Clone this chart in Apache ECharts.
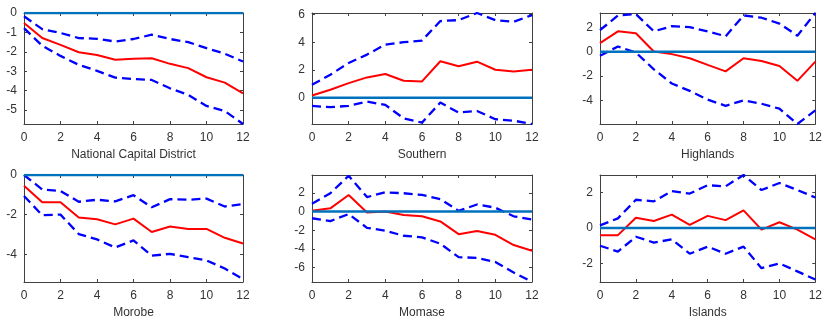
<!DOCTYPE html>
<html>
<head>
<meta charset="utf-8">
<script src="https://cdn.jsdelivr.net/npm/echarts@6/dist/echarts.min.js"></script>
<style>html,body{margin:0;padding:0;background:#fff}#c{width:825px;height:320px}</style>
</head>
<body>
<div id="c"></div>
<script>
const horizon = [0,1,2,3,4,5,6,7,8,9,10,11,12];
const xTicks = [0,2,4,6,8,10,12];
const regions = ['National Capital District','Southern','Highlands','Morobe','Momase','Islands'];

const ncdMid   = [-0.52,-1.29,-1.64,-2.02,-2.16,-2.41,-2.36,-2.33,-2.62,-2.84,-3.31,-3.59,-4.14];
const ncdUpper = [-0.17,-0.83,-1.03,-1.29,-1.33,-1.47,-1.34,-1.12,-1.34,-1.50,-1.81,-2.10,-2.50];
const ncdLower = [-0.78,-1.69,-2.21,-2.67,-2.98,-3.33,-3.40,-3.45,-3.88,-4.22,-4.79,-5.05,-5.72];

const southMid   = [0.17,0.58,1.06,1.47,1.71,1.23,1.18,2.63,2.27,2.60,2.02,1.90,2.02];
const southUpper = [0.94,1.66,2.51,3.11,3.83,4.00,4.12,5.52,5.59,6.10,5.59,5.47,5.95];
const southLower = [-0.58,-0.67,-0.58,-0.27,-0.51,-1.47,-1.78,-0.34,-1.06,-0.94,-1.54,-1.64,-1.88];

const highMid   = [0.72,1.69,1.53,0.03,-0.19,-0.53,-1.08,-1.61,-0.53,-0.75,-1.17,-2.39,-0.81];
const highUpper = [1.78,3.00,3.11,1.69,2.11,2.03,1.69,1.28,3.00,2.81,2.33,1.33,3.20];
const highLower = [-0.33,0.44,-0.06,-1.44,-2.61,-3.22,-3.94,-4.45,-4.00,-4.28,-4.69,-5.95,-4.83];

const morobeMid   = [-0.54,-1.38,-1.38,-2.15,-2.23,-2.49,-2.20,-2.88,-2.60,-2.72,-2.72,-3.17,-3.46];
const morobeUpper = [0.00,-0.73,-0.81,-1.35,-1.25,-1.33,-1.02,-1.63,-1.22,-1.25,-1.19,-1.59,-1.46];
const morobeLower = [-1.06,-2.03,-2.00,-2.98,-3.25,-3.66,-3.30,-4.07,-3.98,-4.15,-4.31,-4.72,-5.25];

const momaseMid   = [0.07,0.34,1.77,-0.10,0.00,-0.38,-0.51,-1.06,-2.42,-2.08,-2.49,-3.58,-4.20];
const momaseUpper = [0.82,1.95,3.82,1.54,2.05,1.95,1.77,1.33,0.07,0.75,0.41,-0.51,-0.85];
const momaseLower = [-0.72,-1.02,-0.27,-1.74,-2.05,-2.59,-2.76,-3.44,-4.88,-4.95,-5.39,-6.52,-7.50];

const islandMid   = [-0.40,-0.40,0.58,0.40,0.76,0.18,0.69,0.45,1.00,-0.09,0.33,-0.09,-0.64];
const islandUpper = [0.15,0.55,1.60,1.51,2.09,1.95,2.42,2.36,3.00,2.15,2.55,2.15,1.73];
const islandLower = [-1.00,-1.33,-0.49,-0.82,-0.64,-1.45,-1.05,-1.45,-1.05,-2.27,-2.00,-2.45,-2.91];

const yTicks = [
  [-5,-4,-3,-2,-1,0],
  [0,2,4,6],
  [-4,-2,0,2],
  [-4,-2,0],
  [-6,-4,-2,0,2],
  [-2,0,2]
];
const yMin = [-5.72,-1.88,-5.95,-5.4,-7.53,-3.05];
const yMax = [0,6.1,3.2,0,3.9,3.0];

const mids = [ncdMid,southMid,highMid,morobeMid,momaseMid,islandMid];
const uppers = [ncdUpper,southUpper,highUpper,morobeUpper,momaseUpper,islandUpper];
const lowers = [ncdLower,southLower,highLower,morobeLower,momaseLower,islandLower];

const lefts = [24,312,600];
const widths = [219,220,219];
const tops = [13,175];
const heights = [111,111];

const axisCol = '#404040';
const font = 'Liberation Sans, Arial, Helvetica, sans-serif';

const grid=[], xAxis=[], yAxis=[], series=[];
const pair = (arr) => horizon.map((h,i)=>[h,arr[i]]);

for (let p=0;p<6;p++){
  const col=p%3, row=Math.floor(p/3);
  grid.push({left:lefts[col], top:tops[row], width:widths[col], height:heights[row], containLabel:false});
  const baseX = {
    type:'value', gridIndex:p, min:0, max:12,
    axisLine:{show:true, onZero:false, lineStyle:{color:axisCol,width:1}},
    axisTick:{show:true, inside:true, length:3, customValues:xTicks, lineStyle:{color:axisCol}},
    splitLine:{show:false}
  };
  xAxis.push(Object.assign({}, baseX, {
    position:'bottom',
    name:regions[p], nameLocation:'middle', nameGap:25,
    nameTextStyle:{color:'#333', fontSize:12, fontFamily:font},
    axisLabel:{show:true, customValues:xTicks, color:'#333', fontSize:12, fontFamily:font, margin:8}
  }));
  xAxis.push(Object.assign({}, baseX, {position:'top', axisLabel:{show:false}}));
  const baseY = {
    type:'value', gridIndex:p, min:yMin[p], max:yMax[p],
    axisLine:{show:true, onZero:false, lineStyle:{color:axisCol,width:1}},
    axisTick:{show:true, inside:true, length:3, customValues:yTicks[p], lineStyle:{color:axisCol}},
    splitLine:{show:false}
  };
  yAxis.push(Object.assign({}, baseY, {
    position:'left',
    axisLabel:{show:true, customValues:yTicks[p], color:'#333', fontSize:12, fontFamily:font, margin:7}
  }));
  yAxis.push(Object.assign({}, baseY, {position:'right', axisLabel:{show:false}}));

  const xi=2*p, yi=2*p;
  series.push({type:'line', xAxisIndex:xi, yAxisIndex:yi, data:pair(mids[p]), showSymbol:false, silent:true,
    lineStyle:{color:'#ff0000', width:2}, z:3});
  series.push({type:'line', xAxisIndex:xi, yAxisIndex:yi, data:pair(uppers[p]), showSymbol:false, silent:true,
    lineStyle:{color:'#0000ff', width:2.3, type:[9,5]}, z:2});
  series.push({type:'line', xAxisIndex:xi, yAxisIndex:yi, data:pair(lowers[p]), showSymbol:false, silent:true,
    lineStyle:{color:'#0000ff', width:2.3, type:[9,5]}, z:2});
  series.push({type:'line', xAxisIndex:xi, yAxisIndex:yi, data:pair(horizon.map(()=>0)), showSymbol:false, silent:true,
    lineStyle:{color:'#0072BD', width:2.5}, z:4});
}

const chart = echarts.init(document.getElementById('c'), null, {renderer:'canvas'});
chart.setOption({animation:false, backgroundColor:'#fff', grid, xAxis, yAxis, series});
</script>
</body>
</html>
